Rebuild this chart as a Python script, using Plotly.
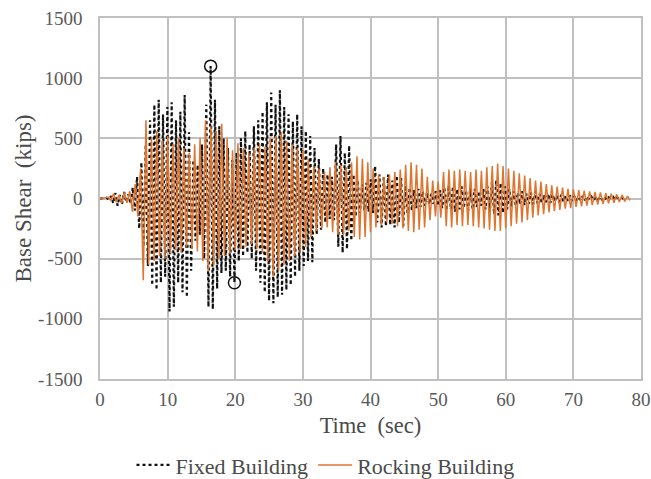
import numpy as np
import plotly.graph_objects as go

# ---- Data (peak values, kips) ----
# Fixed building: alternating positive / negative peaks, sampled every half cycle
fixed_t0 = 1.0
fixed_half_period = 0.32
fixed_pos = [5, 20, 45, 30, 55, 35, 90, 180, 300, 450,
             650, 780, 820, 700, 760, 800, 650, 720, 860, 550,
             320, 280, 450, 780, 1100, 820, 600, 500, 420, 320,
             380, 500, 560, 450, 600, 650, 720, 800, 880, 780,
             900, 760, 700, 640, 700, 600, 560, 520, 420, 330,
             250, 200, 180, 450, 520, 380, 440, 200, 150, 120,
             130, 160, 270, 200, 180, 200, 150, 190, 170, 110,
             90, 70, 80, 60, 50, 40, 60, 70, 90, 110,
             100, 80, 100, 70, 90, 80, 60, 80, 100, 140,
             150, 130, 100, 80, 60, 50, 60, 40, 50, 60,
             40, 30, 40, 35, 25, 30, 20, 25, 20, 15,
             20, 18, 15, 12, 15, 12, 10, 12, 8, 5]
fixed_neg = [-10, -40, -60, -50, -30, -45, -100, -250, -400, -560,
             -720, -760, -700, -650, -940, -900, -700, -780, -820, -600,
             -350, -300, -500, -900, -920, -750, -620, -600, -650, -700,
             -520, -480, -450, -500, -600, -700, -780, -850, -870, -820,
             -800, -760, -720, -650, -600, -560, -520, -530, -300, -260,
             -200, -170, -180, -400, -450, -420, -350, -150, -120, -100,
             -110, -120, -200, -240, -230, -220, -240, -200, -230, -120,
             -100, -80, -70, -60, -50, -45, -60, -80, -100, -90,
             -110, -90, -80, -100, -90, -70, -60, -90, -110, -130,
             -140, -120, -90, -70, -60, -50, -55, -45, -50, -40,
             -35, -30, -35, -25, -30, -25, -20, -20, -18, -15,
             -15, -12, -15, -10, -12, -10, -8, -10, -6, -5]

# Rocking building
rock_t0 = 1.2
rock_half_period = 0.4
rock_pos = [10, 40, 30, 50, 60, 120, 250, 650, 500, 560,
            480, 520, 450, 500, 420, 380, 450, 500, 650, 600,
            560, 620, 500, 400, 460, 420, 380, 420, 450, 430,
            500, 520, 550, 480, 450, 420, 400, 330, 270, 250,
            220, 260, 300, 280, 260, 300, 350, 330, 300, 250,
            200, 180, 200, 220, 240, 280, 300, 280, 250, 180,
            150, 140, 220, 240, 230, 240, 230, 220, 240, 230,
            260, 270, 290, 270, 250, 230, 210, 190, 170, 150,
            140, 120, 110, 100, 90, 80, 75, 70, 65, 60,
            55, 50, 45, 40, 35, 30, 20]
rock_neg = [-15, -30, -40, -35, -110, -150, -680, -550, -520, -480,
            -500, -460, -430, -450, -400, -420, -440, -520, -600, -560,
            -500, -480, -460, -430, -420, -400, -380, -420, -450, -520,
            -650, -600, -550, -520, -480, -450, -400, -320, -270, -250,
            -240, -280, -300, -300, -270, -320, -340, -320, -280, -240,
            -220, -200, -210, -230, -250, -270, -280, -260, -240, -180,
            -150, -160, -230, -240, -220, -230, -220, -230, -240, -250,
            -260, -270, -270, -250, -230, -210, -200, -180, -160, -140,
            -130, -115, -105, -95, -85, -80, -70, -65, -60, -55,
            -50, -45, -40, -35, -30, -25, -15]

# Marked peaks (circles)
mark_t = [16.36, 19.88]
mark_v = [1100, -700]

x_ticks = [0, 10, 20, 30, 40, 50, 60, 70, 80]
y_ticks = [-1500, -1000, -500, 0, 500, 1000, 1500]
y_tick_labels = ["-1500", "-1000", "-500", "0", "500", "1000", "1500"]


def interleave(t0, half, pos, neg):
    xs, ys = [0.0], [0.0]
    for i, (p, n) in enumerate(zip(pos, neg)):
        base = t0 + 2 * half * i
        xs += [base, base + half]
        ys += [p, n]
    return xs, ys


fx, fy = interleave(fixed_t0, fixed_half_period, fixed_pos, fixed_neg)
rx, ry = interleave(rock_t0, rock_half_period, rock_pos, rock_neg)

FONT = "Liberation Serif, Times New Roman, serif"
GRID = "#c0c0c0"
TICK_C = "#595959"
TITLE_C = "#4a4a4a"

fig = go.Figure()
fig.add_trace(go.Scatter(x=fx, y=fy, mode="lines", name="Fixed Building",
                         line=dict(color="#111111", width=2.2, dash="dot")))
fig.add_trace(go.Scatter(x=rx, y=ry, mode="lines", name="Rocking Building",
                         line=dict(color="#E0752F", width=1.5)))
fig.add_trace(go.Scatter(x=mark_t, y=mark_v, mode="markers", showlegend=False,
                         marker=dict(symbol="circle-open", size=12,
                                     color="#111111", line=dict(width=1.5))))

fig.update_layout(
    width=651, height=479,
    margin=dict(l=100, r=10, t=18, b=100, autoexpand=False),
    paper_bgcolor="white", plot_bgcolor="white",
    font=dict(family=FONT, color=TICK_C, size=19),
    showlegend=True,
    legend=dict(orientation="h", xref="container", yref="container",
                x=0.5, xanchor="center", y=0.029, yanchor="middle",
                font=dict(size=22, color=TITLE_C),
                itemwidth=34, tracegroupgap=0),
)
fig.update_xaxes(range=[0, 80], tickvals=x_ticks, showgrid=True,
                 gridcolor=GRID, gridwidth=1.5, zeroline=False,
                 showline=True, linecolor=GRID, linewidth=1.5, mirror=True,
                 ticks="", tickfont=dict(size=19, color=TICK_C),
                 ticklabelstandoff=2,
                 title=dict(text="Time  (sec)", font=dict(size=22.5, color=TITLE_C),
                            standoff=9))
fig.update_yaxes(range=[-1500, 1500], tickvals=y_ticks, ticktext=y_tick_labels,
                 showgrid=True,
                 gridcolor=GRID, gridwidth=1.5, zeroline=True,
                 zerolinecolor=GRID, zerolinewidth=1.5,
                 showline=True, linecolor=GRID, linewidth=1.5, mirror=True,
                 ticks="", tickfont=dict(size=19, color=TICK_C),
                 ticklabelstandoff=12,
                 title=dict(text="Base Shear  (kips)", font=dict(size=23, color=TITLE_C),
                            standoff=0))

fig.write_html("out.html", config={"displayModeBar": False},
               post_script="document.body.style.margin='0';document.body.style.overflow='hidden';")
